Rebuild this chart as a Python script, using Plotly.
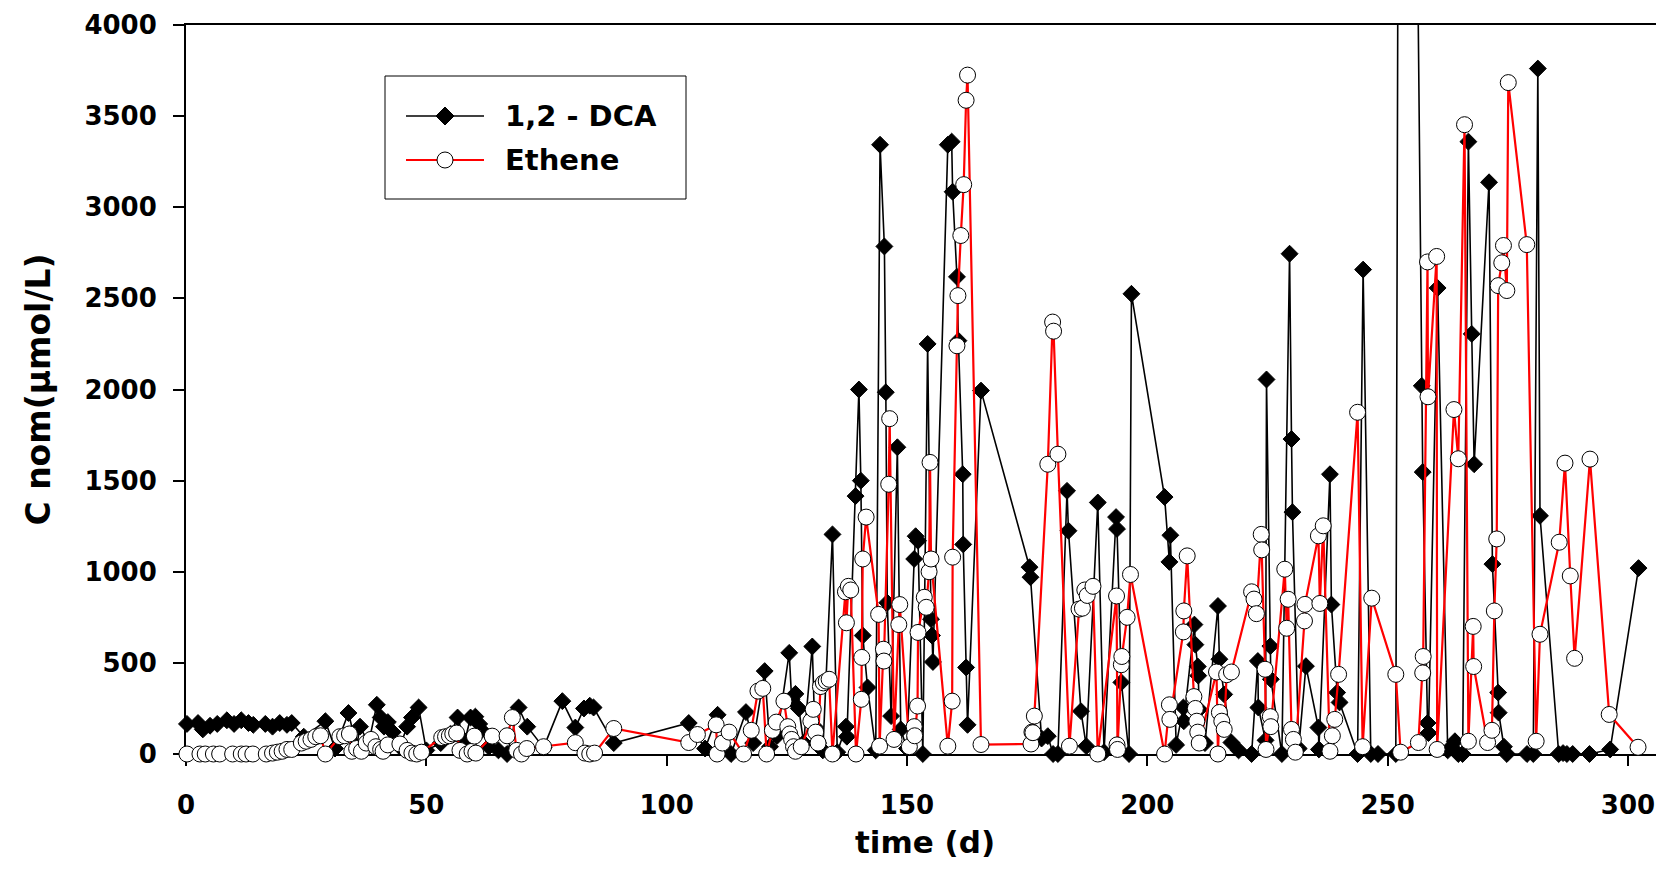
import plotly.graph_objects as go

# ---- data ----
dca_day = [0.2, 2.5, 3.5, 5, 6.5, 8.5, 10, 11.5, 13, 14, 16.5, 18, 19.5, 21, 22,
           24.5, 29, 31, 33.8, 35.5, 36.2, 38, 39.7, 40.5, 41.2, 42, 43, 44.5, 46, 47, 48.4,
           50, 53, 55, 56.5, 58, 59.2, 60.2, 61, 61.5, 63, 65, 66.8, 69.2, 71, 74.4, 78.3,
           81, 82.8, 84, 84.8, 89, 104.6, 108, 110.6, 113.4, 116.5, 118, 120.4, 121.5, 123,
           125.5, 126, 126.8, 127.5, 128.5, 130.3, 130.8, 131.5, 132.5, 134.5, 135.5, 137.3,
           137.5, 139.3, 140, 140.4, 140.8, 141.8, 143.5, 144.4, 145.3, 145.6, 145.9, 146.7,
           148, 148.7, 150, 151.5, 151.8, 152.3, 153.3, 154.3, 155, 155.2, 155.4, 158.5,
           159.3, 159.5, 160.4, 160.7, 161.6, 161.7, 162.3, 162.6, 165.4, 175.5, 175.7, 178,
           179.3, 180.4, 181.4, 183.3, 183.6, 186.2, 187.3, 189.7, 191, 193.5, 193.7, 194.6,
           196.2, 196.7, 203.6, 204.6, 204.8, 206, 207.5, 207.6, 209.8, 210, 210.5, 210.6,
           210.8, 212, 214.7, 215, 216, 217.5, 219, 221.7, 223, 223.1, 224.6, 224.8, 225.6,
           225.7, 228, 229.6, 230, 230.2, 231.5, 233, 235.6, 235.7, 238, 238.3, 239.5, 240,
           243.75, 244.9, 246.5, 248, 251.7, 253, 257.1, 257.3, 258.3, 258.5, 260.4, 262.5,
           264, 264.7, 265.6, 266.8, 267.5, 268, 271.1, 271.8, 273, 273.1, 274.2, 274.8,
           279, 280.3, 281.25, 281.7, 285.6, 286.5, 287.3, 288.5, 292, 296.3, 302.2]
dca_val = [165, 170, 135, 155, 165, 185, 165, 185, 170, 160, 165, 150, 170, 160, 170,
           95, 180, 30, 225, 40, 150, 60, 270, 200, 150, 175, 120, 40, 150, 200, 255,
           20, 60, 110, 200, 70, 200, 205, 165, 130, 40, 20, 0, 255, 150, 35, 290,
           145, 250, 265, 255, 60, 170, 30, 215, 0, 230, 60, 455, 40, 100,
           555, 300, 330, 250, 60, 590, 150, 60, 20, 1205, 10, 150,
           95, 1415, 2000, 1500, 650, 365, 20, 3343, 2785, 1985, 830, 208,
           1683, 135, 30, 1070, 1195, 1170, 0, 2250, 740, 650, 505, 3343,
           3360, 3085, 2618, 2268, 1535, 1150, 475, 160, 1994, 1025, 970, 85,
           98, 0, 0, 1444, 1225, 235, 43, 1380, 10, 1300, 1235, 393,
           0, 2525, 1410, 1054, 1200, 50, 255, 180, 710, 600, 480, 430,
           245, 60, 812, 520, 327, 63, 20, 0, 510, 255, 75, 2055, 592,
           410, 0, 2745, 1728, 1327, 30, 482, 145, 25, 1535, 820, 337, 283,
           0, 2658, 0, 0, 0, 13000, 2020, 1547, 170, 115, 2557, 20,
           70, 0, 0, 3360, 2305, 1590, 3137, 1042, 337, 227, 40, 0,
           0, 0, 3761, 1307, 0, 5, 0, 0, 0, 25, 1020]

eth_day = [0.2, 2.9, 4, 5.7, 7, 9.7, 11.5, 12.5, 13.9, 16.7, 18, 19, 20, 21, 22,
           24, 25, 26, 27, 28, 29, 32, 33, 34, 34.5, 35.5, 36.5, 37.5, 38.5, 39.5, 40.5, 41,
           42, 44.5, 46, 47, 48, 49, 53.2, 54, 54.8, 55.5, 56.3, 57, 58.5, 59.5, 60, 60.3,
           63.7, 66.8, 67.9, 68.8, 69.8, 70.9, 74.4, 81, 83, 84, 85, 89, 104.6, 106.4,
           110.3, 110.5, 111.6, 113, 116, 117.6, 119, 120, 120.8, 122, 122.8, 124.4, 125.2,
           125.6, 126, 126.4, 126.8, 128, 130, 130.5, 131, 131.5, 132, 132.6, 133.2, 133.8,
           134.5, 137.2, 137.4, 137.8, 138.3, 139.4, 140.5, 140.6, 140.8, 141.5, 144.1,
           144.3, 145.1, 145.2, 146.2, 146.4, 147.3, 148.3, 148.5, 150.5, 151.5, 151.6,
           152.2, 152.3, 153.6, 154, 154.6, 154.8, 155, 158.5, 159.4, 159.5, 160.4, 160.6,
           161.2, 161.8, 162.3, 162.6, 165.4, 175.8, 176, 176.2, 176.5, 179.3, 180.3, 180.5,
           181.4, 183.8, 185.8, 186.5, 187, 187.5, 188.7, 189.7, 193.6, 193.7, 193.8, 194.6,
           194.7, 195.8, 196.5, 203.6, 204.6, 204.7, 207.5, 207.6, 208.3, 209.7, 210, 210.3,
           210.5, 210.8, 214.4, 214.7, 215, 215.5, 216, 216.5, 217.5, 221.7, 222.2, 222.7,
           223.7, 223.8, 224.5, 224.7, 225.6, 225.7, 228.6, 229, 229.3, 230, 230.4, 230.8,
           232.7, 232.8, 235.6, 235.9, 236.6, 238, 238.5, 239, 239.8, 243.75, 244.8, 246.7,
           251.7, 252.7, 256.4, 257.3, 257.4, 258.3, 258.4, 260.2, 260.3, 263.8, 264.7, 266,
           266.8, 267.8, 267.9, 270.8, 271.7, 272.2, 272.7, 273, 273.75, 274.1, 274.8, 275.1,
           278.95, 280.9, 281.7, 285.7, 286.9, 288, 288.9, 292.1, 296.1, 302.1]
eth_val = [0, 0, 0, 0, 0, 0, 0, 0, 0, 0, 5, 10, 15, 25, 25,
           60, 70, 80, 95, 100, 0, 95, 100, 110, 15, 30, 15, 60, 80, 40, 25, 15,
           50, 55, 20, 5, 0, 10, 90, 95, 100, 110, 115, 20, 0, 15, 98, 5,
           98, 100, 200, 20, 0, 30, 40, 62, 5, 0, 5, 140, 63, 107,
           160, 0, 60, 120, 0, 130, 345, 360, 0, 130, 175, 290, 150,
           110, 80, 40, 15, 40, 180, 245, 120, 60, 370, 390, 400, 410,
           0, 890, 720, 920, 900, 0, 300, 530, 1070, 1300, 766,
           43, 575, 510, 1480, 1840, 80, 710, 820, 40, 150, 100,
           263, 667, 860, 805, 1000, 1600, 1070, 43, 290, 1080, 2240, 2515,
           2845, 3124, 3587, 3725, 52, 55, 120, 117, 208, 1590, 2370, 2320,
           1645, 43, 795, 800, 900, 870, 920, 0, 867, 50, 25, 490,
           535, 750, 985, 0, 270, 190, 670, 785, 1087, 315, 250, 180,
           120, 60, 450, 0, 228, 180, 135, 435, 450, 890, 850, 770,
           1205, 1120, 465, 25, 205, 150, 1014, 690, 849, 135, 80, 10,
           730, 821, 1197, 826, 1252, 15, 100, 190, 437, 1875, 40, 855,
           437, 10, 63, 445, 535, 2700, 1960, 2730, 25, 1890, 1620, 3453,
           70, 700, 480, 63, 130, 785, 1180, 2570, 2695, 2790, 2543, 3684,
           2795, 70, 657, 1162, 1596, 977, 525, 1618, 217, 37]

series_names = ["1,2 - DCA", "Ethene"]
x_ticks = [0, 50, 100, 150, 200, 250, 300]
y_ticks = [0, 500, 1000, 1500, 2000, 2500, 3000, 3500, 4000]

FONT = "DejaVu Sans"

# page body has an 8px margin: figure is sized so the plot area spans x 186..1664, y 25..754
FIG_W, FIG_H = 1656, 882
M_L, M_R, M_T, M_B = 178, 0, 17, 136
PLOT_W = FIG_W - M_L - M_R
PLOT_H = FIG_H - M_T - M_B


def px_x(px):  # page pixel -> paper x
    return (px - 8 - M_L) / PLOT_W


def px_y(py):  # page pixel -> paper y
    return (FIG_H - M_B + 8 - py) / PLOT_H


fig = go.Figure()
fig.add_trace(go.Scatter(
    x=dca_day, y=dca_val, mode="lines+markers", name=series_names[0],
    line=dict(color="black", width=1.6),
    marker=dict(symbol="diamond", size=13, color="black", line=dict(color="black", width=1)),
    cliponaxis=False, showlegend=False,
))
fig.add_trace(go.Scatter(
    x=eth_day, y=eth_val, mode="lines+markers", name=series_names[1],
    line=dict(color="#ff0000", width=2.2),
    marker=dict(symbol="circle", size=16, color="white", line=dict(color="black", width=1)),
    cliponaxis=False, showlegend=False,
))

# ---- legend box drawn as shapes + text ----
shapes = [
    dict(type="rect", xref="paper", yref="paper",
         x0=px_x(385), x1=px_x(686), y0=px_y(199), y1=px_y(76),
         line=dict(color="black", width=1), fillcolor="white", layer="above"),
]
annotations = []
leg_rows = [(116, "black", 1.6, "diamond"), (160, "#ff0000", 2.2, "circle")]
for (row_y, col, lw, sym), name in zip(leg_rows, series_names):
    yy = px_y(row_y)
    shapes.append(dict(type="line", xref="paper", yref="paper",
                       x0=px_x(406), x1=px_x(484), y0=yy, y1=yy,
                       line=dict(color=col, width=lw)))
    cx = px_x(445)
    if sym == "diamond":
        shapes.append(dict(type="path", xref="paper", yref="paper",
                           xsizemode="pixel", ysizemode="pixel", xanchor=cx, yanchor=yy,
                           path="M -9,0 L 0,9 L 9,0 L 0,-9 Z",
                           fillcolor="black", line=dict(color="black", width=1)))
    else:
        shapes.append(dict(type="circle", xref="paper", yref="paper",
                           xsizemode="pixel", ysizemode="pixel", xanchor=cx, yanchor=yy,
                           x0=-8, x1=8, y0=-8, y1=8,
                           fillcolor="white", line=dict(color="black", width=1)))
    annotations.append(dict(xref="paper", yref="paper", x=px_x(503), y=yy,
                            xanchor="left", yanchor="middle", showarrow=False,
                            text=name,
                            font=dict(family=FONT, size=29, color="black", weight="bold")))

tickfont = dict(family=FONT, size=26, color="black", weight="bold")
fig.update_layout(
    width=FIG_W, height=FIG_H, autosize=False,
    margin=dict(l=M_L, r=M_R, t=M_T, b=M_B, pad=0, autoexpand=False),
    paper_bgcolor="white", plot_bgcolor="white",
    showlegend=False,
    shapes=shapes, annotations=annotations,
    xaxis=dict(
        range=[0, 307.5], tickvals=x_ticks, ticktext=[str(v) for v in x_ticks],
        ticks="outside", ticklen=10, tickwidth=2, tickcolor="black",
        showline=True, linewidth=2, linecolor="black", mirror=True,
        showgrid=False, zeroline=False, layer="below traces",
        tickfont=tickfont, ticklabelstandoff=17,
        title=dict(text="time (d)", font=dict(family=FONT, size=31, color="black", weight="bold"),
                   standoff=12),
    ),
    yaxis=dict(
        range=[0, 4000], tickvals=y_ticks, ticktext=[str(v) for v in y_ticks],
        ticks="outside", ticklen=11, tickwidth=2, tickcolor="black",
        showline=True, linewidth=2, linecolor="black", mirror=False,
        showgrid=False, zeroline=False, layer="below traces",
        tickfont=tickfont, ticklabelstandoff=11,
        title=dict(text="C nom(µmol/L)", font=dict(family=FONT, size=33, color="black", weight="bold"),
                   standoff=24),
    ),
)

fig.write_html("out.html")
